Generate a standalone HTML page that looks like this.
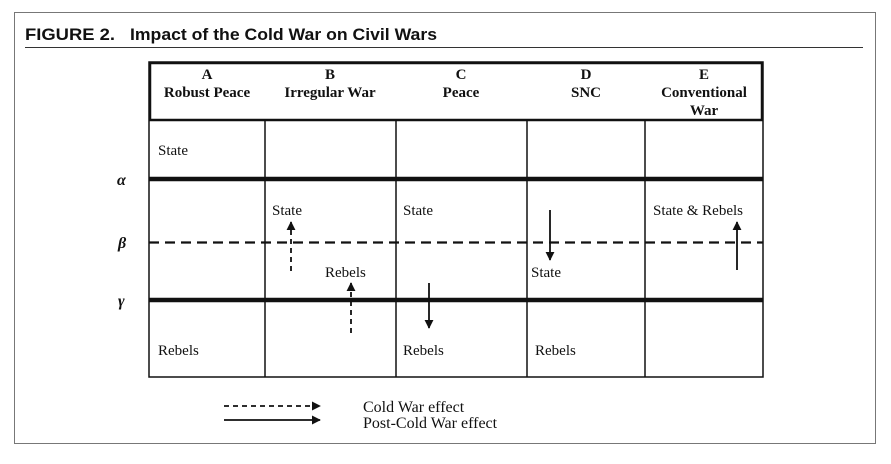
<!DOCTYPE html>
<html><head><style>
body{margin:0;background:#fff;}
svg text{font-family:"Liberation Serif",serif;fill:#111;}
svg text.t{font-family:"Liberation Sans",sans-serif;font-weight:bold;font-size:17px;}
</style></head><body>
<svg width="891" height="459" xmlns="http://www.w3.org/2000/svg">
<defs>
<marker id="ah" viewBox="0 0 10 10" refX="9" refY="5" markerWidth="9" markerHeight="9" markerUnits="userSpaceOnUse" orient="auto"><path d="M0,0L10,5L0,10z" fill="#111"/></marker>
</defs>
<rect x="14.5" y="12.5" width="861" height="431" fill="none" stroke="#777" stroke-width="1"/>
<text class="t" x="25" y="40" textLength="90" lengthAdjust="spacingAndGlyphs">FIGURE 2.</text>
<text class="t" x="130" y="40" textLength="307" lengthAdjust="spacingAndGlyphs">Impact of the Cold War on Civil Wars</text>
<line x1="25" y1="47.5" x2="863" y2="47.5" stroke="#333" stroke-width="1"/>
<rect x="149" y="62" width="614" height="315" fill="none" stroke="#111" stroke-width="1.5"/>
<rect x="150" y="63" width="612" height="57" fill="none" stroke="#111" stroke-width="2.5"/>
<g stroke="#111" stroke-width="1.5">
<line x1="265" y1="120" x2="265" y2="377"/><line x1="396" y1="120" x2="396" y2="377"/>
<line x1="527" y1="120" x2="527" y2="377"/><line x1="645" y1="120" x2="645" y2="377"/>
</g>
<line x1="149" y1="179" x2="763" y2="179" stroke="#111" stroke-width="4.5"/>
<line x1="149" y1="300" x2="763" y2="300" stroke="#111" stroke-width="4.5"/>
<line x1="149" y1="242.5" x2="763" y2="242.5" stroke="#111" stroke-width="2.2" stroke-dasharray="10,6"/>
<g style="font-weight:bold;font-size:15px" text-anchor="middle">
<text x="207" y="79">A</text><text x="207" y="97">Robust Peace</text>
<text x="330" y="79">B</text><text x="330" y="97">Irregular War</text>
<text x="461" y="79">C</text><text x="461" y="97">Peace</text>
<text x="586" y="79">D</text><text x="586" y="97">SNC</text>
<text x="704" y="79">E</text><text x="704" y="97">Conventional</text><text x="704" y="115">War</text>
</g>
<g style="font-weight:bold;font-style:italic;font-size:16px">
<text x="117" y="185">α</text><text x="118" y="248">β</text><text x="118" y="306">γ</text>
</g>
<g style="font-size:15px">
<text x="158" y="155">State</text>
<text x="272" y="215">State</text><text x="403" y="215">State</text><text x="653" y="215">State &amp; Rebels</text>
<text x="325" y="277">Rebels</text><text x="531" y="277">State</text>
<text x="158" y="355">Rebels</text><text x="403" y="355">Rebels</text><text x="535" y="355">Rebels</text>
</g>
<g stroke="#111" stroke-width="1.8" fill="none">
<line x1="291" y1="271" x2="291" y2="222" stroke-dasharray="5,4" marker-end="url(#ah)"/>
<line x1="351" y1="333" x2="351" y2="283" stroke-dasharray="5,4" marker-end="url(#ah)"/>
<line x1="429" y1="283" x2="429" y2="328" marker-end="url(#ah)"/>
<line x1="550" y1="210" x2="550" y2="260" marker-end="url(#ah)"/>
<line x1="737" y1="270" x2="737" y2="222" marker-end="url(#ah)"/>
<line x1="224" y1="406" x2="320" y2="406" stroke-dasharray="5,4" marker-end="url(#ah)"/>
<line x1="224" y1="420" x2="320" y2="420" marker-end="url(#ah)"/>
</g>
<g style="font-size:16px">
<text x="363" y="412">Cold War effect</text>
<text x="363" y="428">Post-Cold War effect</text>
</g>
</svg>
</body></html>
